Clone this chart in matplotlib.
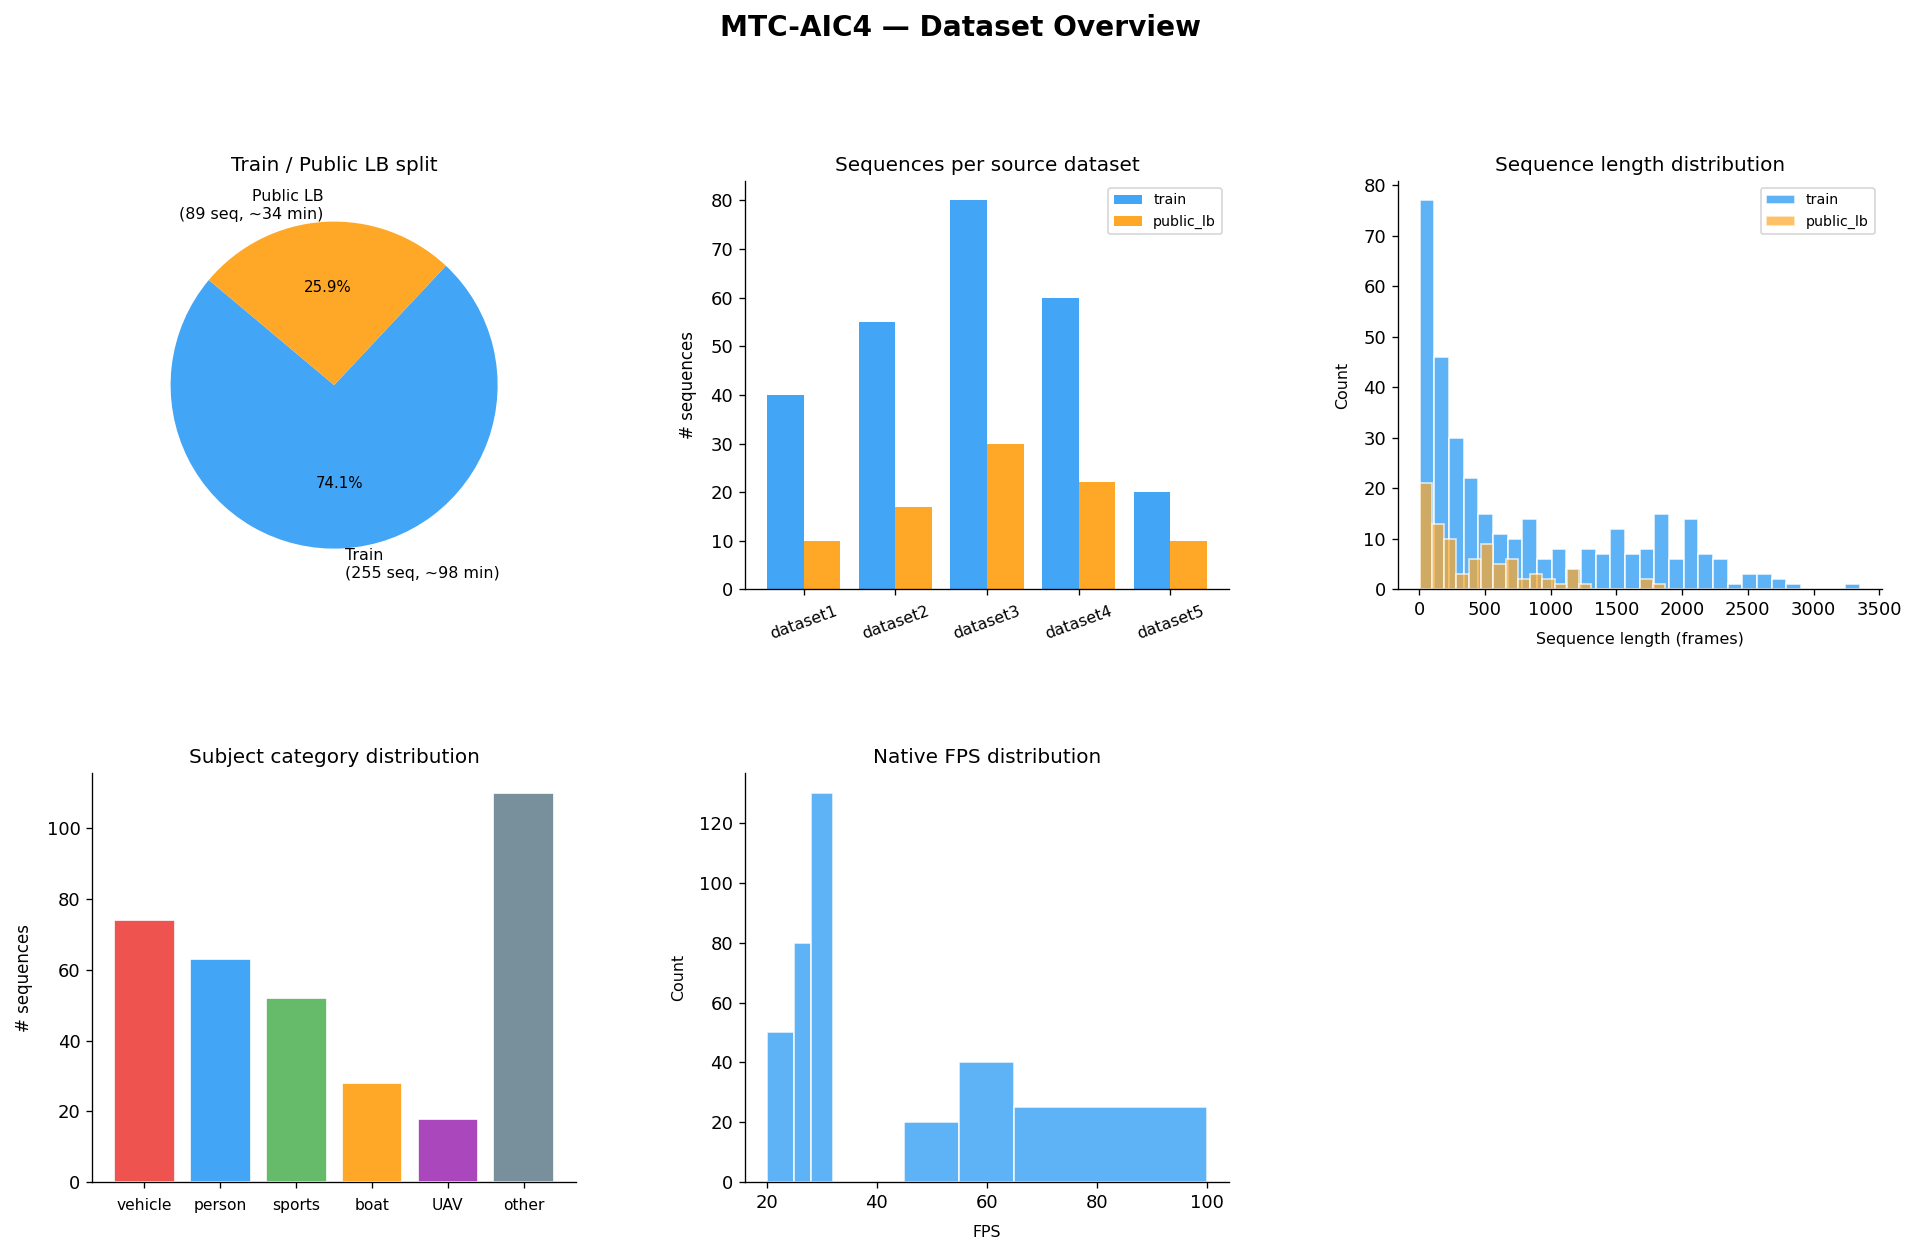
import numpy as np
import matplotlib
matplotlib.use("Agg")
import matplotlib.pyplot as plt
from matplotlib.ticker import MultipleLocator

# ---------------- data ----------------
split_labels = ["Train\n(255 seq, ~98 min)", "Public LB\n(89 seq, ~34 min)"]
split_values = [255, 89]

datasets = ["dataset1", "dataset2", "dataset3", "dataset4", "dataset5"]
train_per_ds = [40, 55, 80, 60, 20]
public_per_ds = [10, 17, 30, 22, 10]

train_len_edges = np.linspace(5, 3350, 31)
train_len_counts = [77, 46, 30, 22, 15, 11, 10, 14, 6, 8, 4, 8, 7, 12, 7,
                    8, 15, 6, 14, 7, 6, 1, 3, 3, 2, 1, 0, 0, 0, 1]
public_len_edges = np.linspace(5, 1870, 21)
public_len_counts = [21, 13, 10, 3, 6, 9, 5, 6, 2, 3, 2, 1, 4, 1, 0, 0, 0, 0, 2, 1]

categories = ["vehicle", "person", "sports", "boat", "UAV", "other"]
category_counts = [74, 63, 52, 28, 18, 110]
category_colors = ["#EF5350", "#42A5F5", "#66BB6A", "#FFA726", "#AB47BC", "#78909C"]

fps_edges = [20, 25, 28, 32, 45, 55, 65, 100]
fps_counts = [50, 80, 130, 0, 20, 40, 25]

BLUE = "#42A5F5"
ORANGE = "#FFA726"

# ---------------- figure ----------------
fig, axes = plt.subplots(2, 3, figsize=(16, 1255 / 120), dpi=120)
fig.subplots_adjust(left=0.048, right=0.98, bottom=0.058, top=0.856,
                    wspace=0.349, hspace=0.45)
fig.suptitle("MTC-AIC4 — Dataset Overview", fontsize=16.8, fontweight="bold", y=0.989)

TICK = 10.8
TITLE = 12
LAB = 9.5
YSEQ = 10
LEG = 8.5
PAD = 8

# pie
ax = axes[0, 0]
wedges, texts, autotexts = ax.pie(split_values, labels=split_labels,
                                  colors=[BLUE, ORANGE], autopct="%1.1f%%",
                                  startangle=140, textprops={"fontsize": 9.5})
for t in autotexts:
    t.set_fontsize(9)
ax.set_title("Train / Public LB split", fontsize=TITLE)

# grouped bars
ax = axes[0, 1]
x = np.arange(len(datasets))
w = 0.4
ax.bar(x - w / 2, train_per_ds, w, color=BLUE, label="train")
ax.bar(x + w / 2, public_per_ds, w, color=ORANGE, label="public_lb")
ax.set_xticks(x)
ax.set_xticklabels(datasets, rotation=20, fontsize=9.5)
ax.tick_params(axis="x", pad=5)
ax.set_ylabel("# sequences", fontsize=YSEQ, labelpad=PAD)
ax.set_title("Sequences per source dataset", fontsize=TITLE)
ax.legend(fontsize=LEG, loc="upper right")
ax.tick_params(axis="y", labelsize=TICK)

# sequence length histogram
ax = axes[0, 2]
ax.hist(train_len_edges[:-1], bins=train_len_edges, weights=train_len_counts,
        color=BLUE, alpha=0.85, edgecolor="white", label="train")
ax.hist(public_len_edges[:-1], bins=public_len_edges, weights=public_len_counts,
        color=ORANGE, alpha=0.7, edgecolor="white", label="public_lb")
ax.set_xlabel("Sequence length (frames)", fontsize=LAB, labelpad=PAD)
ax.set_ylabel("Count", fontsize=LAB, labelpad=PAD)
ax.set_title("Sequence length distribution", fontsize=TITLE)
ax.legend(fontsize=LEG, loc="upper right")
ax.tick_params(labelsize=TICK)

# category bars
ax = axes[1, 0]
ax.bar(categories, category_counts, color=category_colors, edgecolor="white")
ax.set_ylabel("# sequences", fontsize=YSEQ, labelpad=PAD)
ax.set_title("Subject category distribution", fontsize=TITLE)
ax.tick_params(axis="x", labelsize=9.3, pad=6)
ax.tick_params(axis="y", labelsize=TICK)

# fps histogram
ax = axes[1, 1]
ax.hist(fps_edges[:-1], bins=fps_edges, weights=fps_counts,
        color=BLUE, alpha=0.85, edgecolor="white")
ax.xaxis.set_major_locator(MultipleLocator(20))
ax.set_xlabel("FPS", fontsize=LAB, labelpad=PAD)
ax.set_ylabel("Count", fontsize=LAB, labelpad=PAD)
ax.set_title("Native FPS distribution", fontsize=TITLE)
ax.tick_params(labelsize=TICK)

axes[1, 2].axis("off")

for a in [axes[0, 1], axes[0, 2], axes[1, 0], axes[1, 1]]:
    a.spines["top"].set_visible(False)
    a.spines["right"].set_visible(False)

fig.savefig("out.png", dpi=120)
